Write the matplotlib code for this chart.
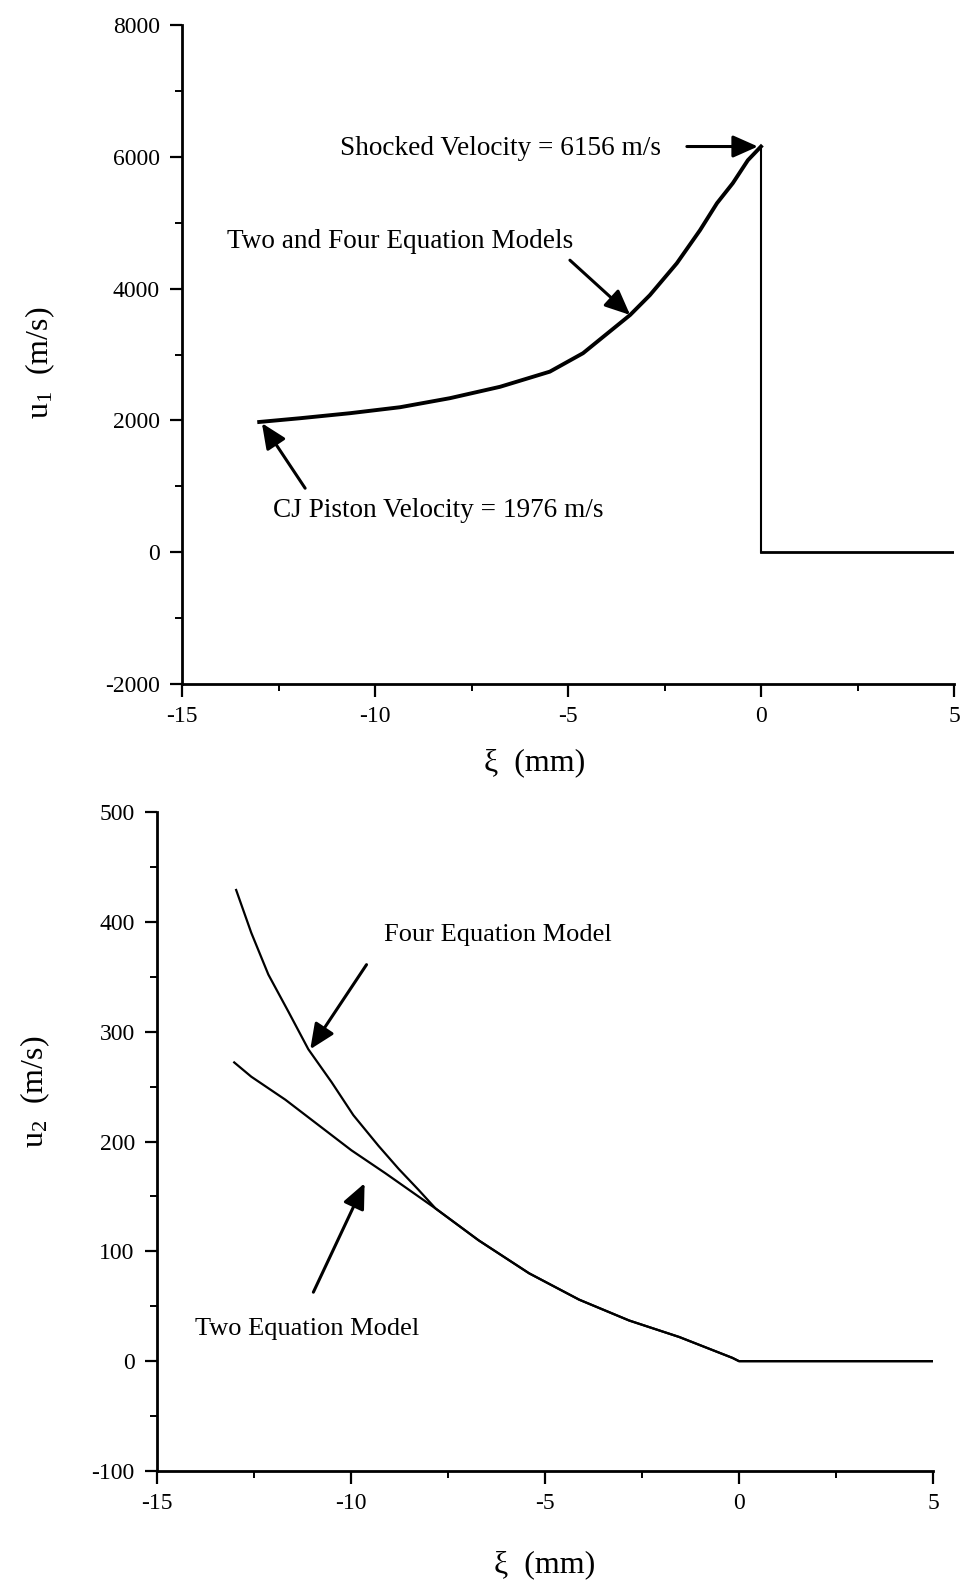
# --- External Imports ---
import matplotlib
matplotlib.use("Agg")
import matplotlib.pyplot as pyplot
import matplotlib.ticker as ticker


pyplot.rc("font", family="Liberation Serif", size=17)
pyplot.rc("mathtext", fontset="custom", rm="Liberation Serif",
          it="Liberation Serif:italic")
pyplot.rc("axes", unicode_minus=False)

# --- Data ---
# top panel: gas velocity u1 behind the shock
u1Xi = [-13.0, -11.94, -10.65, -9.35, -8.06, -6.76, -5.47, -4.61, -3.39,
        -2.88, -2.18, -1.58, -1.14, -0.73, -0.34, 0.0]
u1Values = [1976, 2033, 2109, 2200, 2337, 2510, 2740, 3020, 3600,
            3900, 4385, 4886, 5296, 5600, 5948, 6156]
shockXi = [0.0, 0.0, 5.0]
shockU1 = [6156, 0, 0]

# bottom panel: particle velocity u2
fourXi = [-12.96, -12.57, -12.13, -11.61, -11.10, -10.50, -9.94, -9.29,
          -8.77, -8.26, -7.82, -6.71, -5.41, -4.12, -2.83, -1.54, -0.17,
          0.0, 5.0]
fourU2 = [429, 390, 352, 318, 284, 254, 224, 196,
          175, 156, 139, 110, 80, 56, 37, 22, 3,
          0, 0]
twoXi = [-13.01, -12.57, -11.69, -10.84, -9.99, -9.11, -7.82, -6.71,
         -5.41, -4.12, -2.83, -1.54, -0.17, 0.0, 5.0]
twoU2 = [272, 259, 238, 215, 192, 171, 139, 110,
         80, 56, 37, 22, 3, 0, 0]

arrowStyle = dict(
    arrowstyle="-|>,head_length=0.9,head_width=0.4",
    color="black",
    lw=2.2,
    shrinkA=0,
    shrinkB=0,
    mutation_scale=17,
)


def styleAxes(axes, ylim, yMajor):
    axes.spines["top"].set_visible(False)
    axes.spines["right"].set_visible(False)
    axes.spines["left"].set_linewidth(2.0)
    axes.spines["bottom"].set_linewidth(2.0)
    axes.set_xlim(-15, 5)
    axes.set_ylim(*ylim)
    axes.xaxis.set_major_locator(ticker.MultipleLocator(5))
    axes.xaxis.set_minor_locator(ticker.MultipleLocator(2.5))
    axes.yaxis.set_major_locator(ticker.MultipleLocator(yMajor))
    axes.yaxis.set_minor_locator(ticker.MultipleLocator(yMajor / 2))
    axes.tick_params(which="major", direction="out", length=9, width=1.6,
                     pad=7, labelsize=17)
    axes.tick_params(which="minor", direction="out", length=5, width=1.4)


figure = pyplot.figure(figsize=(9.6, 15.81), dpi=100)
top = figure.add_axes([182 / 960, 1 - 684 / 1581, 772 / 960, 659 / 1581])
bottom = figure.add_axes([157 / 960, 1 - 1471 / 1581, 776 / 960, 659 / 1581])

# --- top panel ---
styleAxes(top, (-2000, 8000), 2000)
top.plot(u1Xi, u1Values, color="black", lw=2.8, solid_joinstyle="round")
top.plot(shockXi[:2], shockU1[:2], color="black", lw=1.5)
top.plot(shockXi[1:], shockU1[1:], color="black", lw=2.0)

top.text(-10.91, 6024, "Shocked Velocity = 6156 m/s", fontsize=19.6,
         va="baseline")
top.annotate("", xy=(-0.08, 6156), xytext=(-1.92, 6156), arrowprops=arrowStyle)
top.text(-13.83, 4613, "Two and Four Equation Models", fontsize=19.6,
         va="baseline")
top.annotate("", xy=(-3.39, 3600), xytext=(-4.95, 4431), arrowprops=arrowStyle)
top.text(-12.64, 531, "CJ Piston Velocity = 1976 m/s", fontsize=19.6,
         va="baseline")
top.annotate("", xy=(-12.93, 1958), xytext=(-11.81, 971), arrowprops=arrowStyle)

top.set_xlabel("ξ  (mm)", fontsize=23)
top.xaxis.set_label_coords(0.457, -0.097)
top.set_ylabel(r"$\mathrm{u_1}$  (m/s)", fontsize=23)
top.yaxis.label.set_verticalalignment("center")
top.yaxis.set_label_coords(-0.184, 0.487)

# --- bottom panel ---
styleAxes(bottom, (-100, 500), 100)
bottom.plot(fourXi, fourU2, color="black", lw=1.6, solid_joinstyle="round")
bottom.plot(twoXi, twoU2, color="black", lw=1.6, solid_joinstyle="round")

bottom.text(-9.16, 382.5, "Four Equation Model", fontsize=19, va="baseline")
bottom.annotate("", xy=(-11.05, 284), xytext=(-9.6, 361), arrowprops=arrowStyle)
bottom.text(-14.02, 23.7, "Two Equation Model", fontsize=19, va="baseline")
bottom.annotate("", xy=(-9.65, 162), xytext=(-10.97, 62.8), arrowprops=arrowStyle)

bottom.set_xlabel("ξ  (mm)", fontsize=23)
bottom.xaxis.set_label_coords(0.5, -0.12)
bottom.set_ylabel(r"$\mathrm{u_2}$  (m/s)", fontsize=23)
bottom.yaxis.label.set_verticalalignment("center")
bottom.yaxis.set_label_coords(-0.157, 0.575)

figure.savefig("out.png", dpi=100)
